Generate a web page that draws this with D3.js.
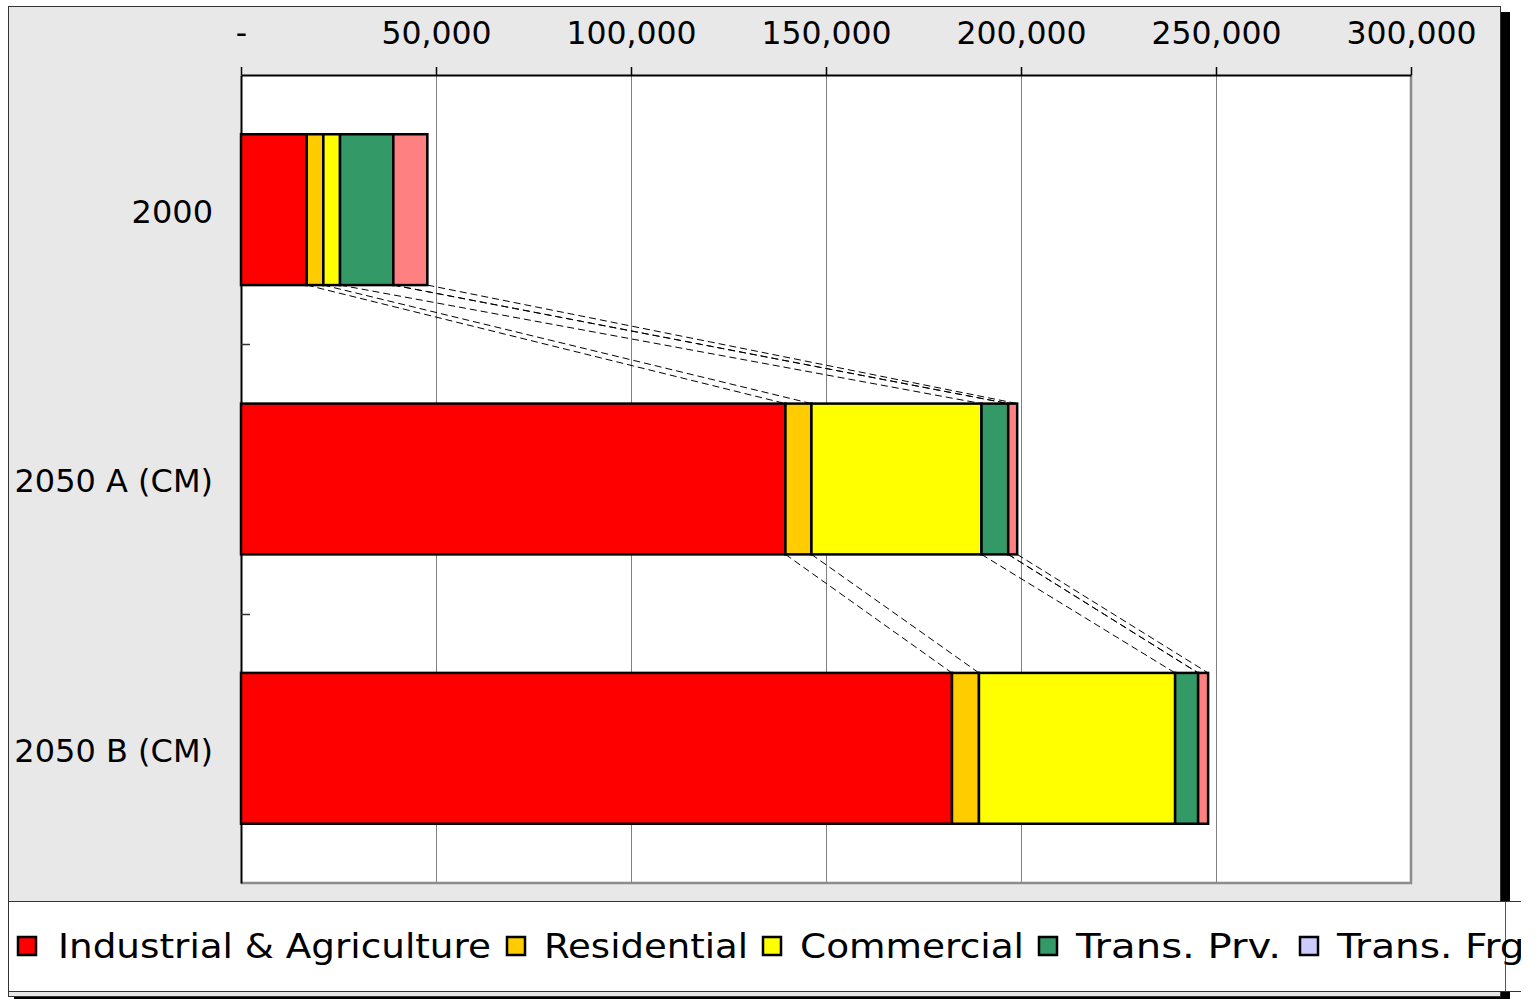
<!DOCTYPE html>
<html>
<head>
<meta charset="utf-8">
<script src="https://cdn.jsdelivr.net/npm/d3@7"></script>
<style>
body { margin: 0; background: #fff; }
svg { display: block; }
text { font-family: 'DejaVu Sans', Verdana, sans-serif; fill: #000; }
</style>
</head>
<body>
<div id="chart"></div>
<script>
// data
var categories = ['2000', '2050 A (CM)', '2050 B (CM)'];
var seriesNames = ['Industrial & Agriculture', 'Residential', 'Commercial', 'Trans. Prv.', 'Trans. Frg.', 'Trans. Pub.'];
var seriesColors = ['#ff0000', '#ffcc00', '#ffff00', '#339966', '#ccccff', '#ff8080'];
var industrial = [16850, 139600, 182300];
var residential = [4260, 6670, 6920];
var commercial = [4280, 43600, 50300];
var transPrv = [13670, 6850, 5900];
var transFrg = [0, 0, 0];
var transPub = [8720, 2300, 2560];
var tickValues = [0, 50000, 100000, 150000, 200000, 250000, 300000];

var width = 1537;
var height = 999;
var plot = {left: 241, top: 75, right: 1411, bottom: 883};

var allSeries = [industrial, residential, commercial, transPrv, transFrg, transPub];
var rows = categories.map(function(c, i) {
    var r = {cat: c};
    seriesNames.forEach(function(s, j) { r[s] = allSeries[j][i]; });
    return r;
});
var stacked = d3.stack().keys(seriesNames)(rows);

var svg = d3.select('#chart')
    .append('svg')
    .attr('width', width)
    .attr('height', height);

// outer frame + shadow
svg.append('rect').attr('x', 1501).attr('y', 12).attr('width', 9).attr('height', 988).attr('fill', '#000');
svg.append('rect').attr('x', 14).attr('y', 996).attr('width', 1496).attr('height', 4).attr('fill', '#000');
svg.append('rect')
    .attr('x', 8.5).attr('y', 6.5)
    .attr('width', 1492).attr('height', 990)
    .attr('fill', '#e8e8e8')
    .attr('stroke', '#333').attr('stroke-width', 1);

var x = d3.scaleLinear()
    .domain([0, 300000])
    .range([plot.left, plot.right]);

var y = d3.scaleBand()
    .domain(categories)
    .range([plot.top, plot.bottom])
    .paddingInner(0.44)
    .paddingOuter(0.22);

// plot area
svg.append('rect')
    .attr('x', plot.left).attr('y', plot.top)
    .attr('width', plot.right - plot.left).attr('height', plot.bottom - plot.top)
    .attr('fill', '#fff');

// gridlines
svg.append('g')
    .selectAll('line')
    .data(tickValues.slice(1, -1))
    .enter()
    .append('line')
    .attr('x1', function(d) { return Math.round(x(d)) + 0.5; })
    .attr('x2', function(d) { return Math.round(x(d)) + 0.5; })
    .attr('y1', plot.top).attr('y2', plot.bottom)
    .attr('stroke', '#808080').attr('stroke-width', 1);

// right / bottom border (grey)
svg.append('path')
    .attr('d', 'M' + plot.right + ',' + (plot.top) + 'V' + plot.bottom + 'H' + plot.left)
    .attr('fill', 'none').attr('stroke', '#8c8c8c').attr('stroke-width', 2.5);

// top axis
var fmt = d3.format(',');
var xAxis = d3.axisTop(x)
    .tickValues(tickValues)
    .tickSizeInner(8)
    .tickSizeOuter(0)
    .tickPadding(23)
    .tickFormat(function(d) { return d === 0 ? '-' : fmt(d); });

var gx = svg.append('g')
    .attr('transform', 'translate(0,' + plot.top + ')')
    .call(xAxis);
gx.select('.domain').attr('stroke', '#000').attr('stroke-width', 2);
gx.selectAll('.tick line').attr('stroke', '#000').attr('stroke-width', 1.5);
gx.selectAll('.tick text')
    .attr('font-size', 31.5)
    .attr('font-family', "'DejaVu Sans', Verdana, sans-serif")
    .attr('fill', '#000');

// left axis: labels at band centres
var yAxis = d3.axisLeft(y)
    .tickSize(0)
    .tickPadding(28);
var gy = svg.append('g')
    .attr('transform', 'translate(' + plot.left + ',0)')
    .call(yAxis);
gy.select('.domain').attr('stroke', '#000').attr('stroke-width', 2);
gy.selectAll('.tick text')
    .attr('font-size', 32)
    .attr('font-family', "'DejaVu Sans', Verdana, sans-serif")
    .attr('fill', '#000')
    .attr('dy', '0.42em');

// inward ticks between categories
var boundaries = categories.slice(1).map(function(c) { return y(c) - y.step() * y.paddingInner() / 2; });
svg.append('g')
    .selectAll('line')
    .data(boundaries)
    .enter()
    .append('line')
    .attr('x1', plot.left).attr('x2', plot.left + 9)
    .attr('y1', function(d) { return Math.round(d) + 0.5; })
    .attr('y2', function(d) { return Math.round(d) + 0.5; })
    .attr('stroke', '#333').attr('stroke-width', 1.5);

// series lines (dashed) between bars
var serLines = [];
stacked.forEach(function(s) {
    for (var i = 0; i < s.length - 1; i++) {
        serLines.push({
            x1: x(s[i][1]), y1: y(categories[i]) + y.bandwidth(),
            x2: x(s[i + 1][1]), y2: y(categories[i + 1])
        });
    }
});
svg.append('g')
    .selectAll('line')
    .data(serLines)
    .enter()
    .append('line')
    .attr('x1', function(d) { return d.x1; })
    .attr('y1', function(d) { return d.y1; })
    .attr('x2', function(d) { return d.x2; })
    .attr('y2', function(d) { return d.y2; })
    .attr('stroke', '#000')
    .attr('stroke-width', 1)
    .attr('stroke-dasharray', '7,4');

// bars
var layer = svg.append('g')
    .selectAll('g')
    .data(stacked)
    .enter()
    .append('g')
    .attr('fill', function(d, i) { return seriesColors[i]; });

layer.selectAll('rect')
    .data(function(d) { return d; })
    .enter()
    .append('rect')
    .attr('x', function(d) { return x(d[0]); })
    .attr('y', function(d) { return y(d.data.cat); })
    .attr('width', function(d) { return x(d[1]) - x(d[0]); })
    .attr('height', y.bandwidth())
    .attr('stroke', '#000')
    .attr('stroke-width', 2.5);

// legend (its right end is cut off, as in the original)
var defs = svg.append('defs');
defs.append('clipPath').attr('id', 'clipR')
    .append('rect').attr('x', 0).attr('y', 0).attr('width', 1521).attr('height', height);

var leg = svg.append('g').attr('clip-path', 'url(#clipR)');
leg.append('rect')
    .attr('x', 8.5).attr('y', 901.5)
    .attr('width', 1560).attr('height', 90)
    .attr('fill', '#fff')
    .attr('stroke', '#333').attr('stroke-width', 1);
leg.append('line')
    .attr('x1', 1505.5).attr('x2', 1505.5)
    .attr('y1', 902).attr('y2', 991)
    .attr('stroke', '#555').attr('stroke-width', 1);

var legendPos = [
    {box: 18, text: 58, len: 433},
    {box: 507, text: 544, len: 204},
    {box: 763, text: 800, len: 224},
    {box: 1039, text: 1076, len: 205},
    {box: 1300, text: 1337, len: 200}
];

var item = leg.selectAll('.legend')
    .data(seriesNames.slice(0, legendPos.length))
    .enter()
    .append('g')
    .attr('class', 'legend');

item.append('rect')
    .attr('x', function(d, i) { return legendPos[i].box; })
    .attr('y', 937)
    .attr('width', 18).attr('height', 18)
    .attr('fill', function(d, i) { return seriesColors[i]; })
    .attr('stroke', '#000').attr('stroke-width', 2.5);

item.append('text')
    .attr('x', function(d, i) { return legendPos[i].text; })
    .attr('y', 958)
    .attr('font-size', 33)
    .attr('textLength', function(d, i) { return legendPos[i].len; })
    .attr('lengthAdjust', 'spacingAndGlyphs')
    .text(function(d) { return d; });
</script>
</body>
</html>
